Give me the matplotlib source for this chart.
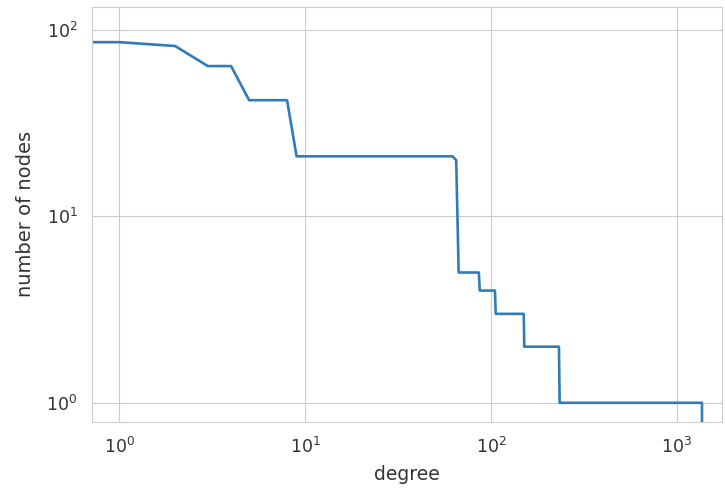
import matplotlib
matplotlib.use("Agg")
import matplotlib.pyplot as plt
import seaborn as sns

# degree distribution
degree = [0, 1, 2, 3, 4, 5, 8, 9, 62, 65, 67, 86, 87, 105, 106, 150, 151, 232, 234, 1364, 1365]
nodes = [86, 86, 82, 64, 64, 42, 42, 21, 21, 20, 5, 5, 4, 4, 3, 3, 2, 2, 1, 1, 0]

sns.set_style("whitegrid")
plt.rcParams['font.family'] = ['DejaVu Sans']

fig = plt.figure(figsize=(7.25, 4.9), dpi=100)
ax = fig.add_axes([0.127, 0.139, 0.869, 0.847])
ax.plot(degree, nodes, color="#2f7cb9", linewidth=1.9)
ax.set_xscale("log")
ax.set_yscale("log")
ax.set_xlim(0.715, 1750)
ax.set_ylim(0.79, 133)
ax.tick_params(which="both", length=0, pad=10.5, labelsize=12.5, colors="#333333")
ax.set_xlabel("degree", fontsize=13.5, color="#333333", labelpad=6)
ax.set_ylabel("number of nodes", fontsize=14, color="#333333", labelpad=8)

fig.savefig("out.png", dpi=100)
